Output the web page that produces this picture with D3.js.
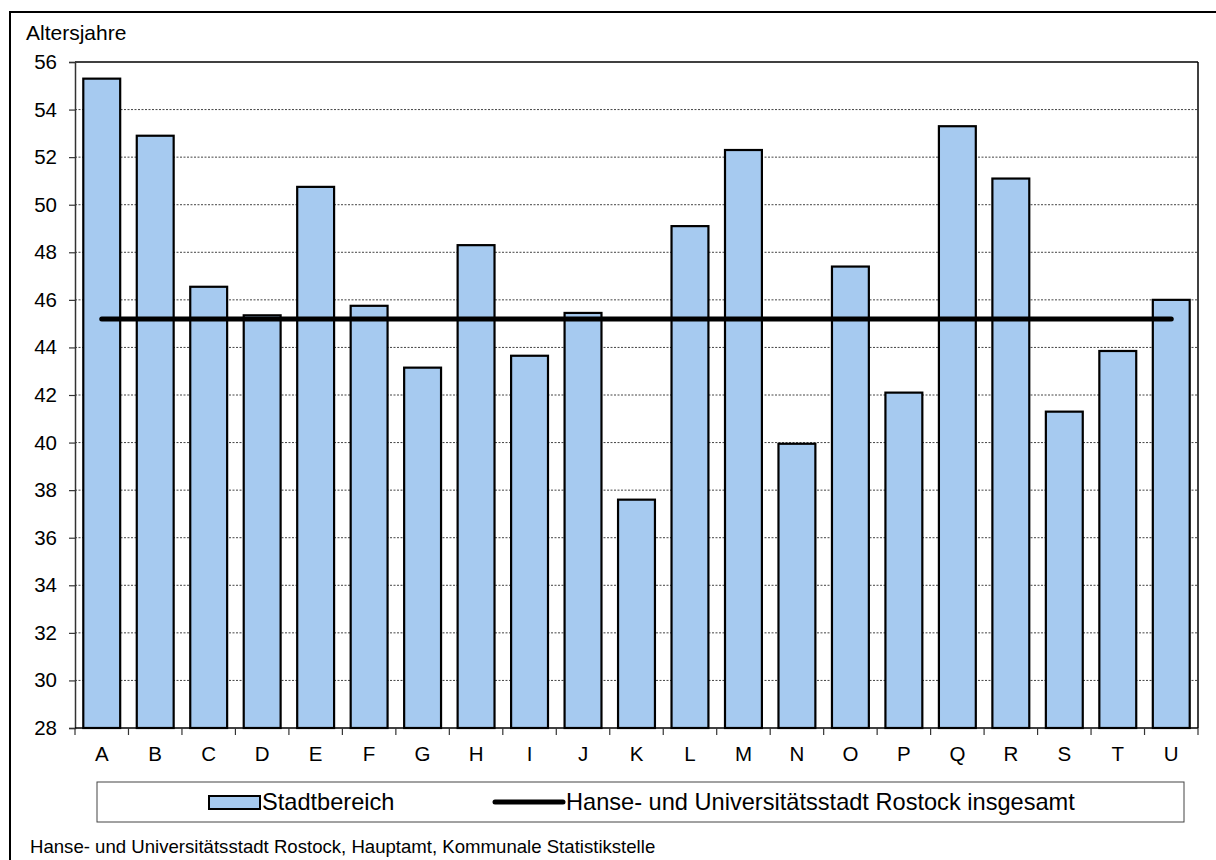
<!DOCTYPE html>
<html>
<head>
<meta charset="utf-8">
<script src="https://cdn.jsdelivr.net/npm/d3@7/dist/d3.min.js"></script>
<style>
  html, body { margin: 0; padding: 0; background: #fff; }
  svg { display: block; font-family: Arial, "Liberation Sans", sans-serif; }
</style>
</head>
<body>
<svg id="chart" width="1216" height="860"></svg>
<script>
const categories = ["A","B","C","D","E","F","G","H","I","J","K","L","M","N","O","P","Q","R","S","T","U"];
const stadtbereich = [55.3, 52.9, 46.55, 45.35, 50.75, 45.75, 43.15, 48.3, 43.65, 45.45, 37.6, 49.1, 52.3, 39.95, 47.4, 42.1, 53.3, 51.1, 41.3, 43.85, 46.0];
const gesamt = 45.2;
const yTicks = [28,30,32,34,36,38,40,42,44,46,48,50,52,54,56];
const yTitle = "Altersjahre";
const legendLabels = ["Stadtbereich", "Hanse- und Universitätsstadt Rostock insgesamt"];
const sourceText = "Hanse- und Universitätsstadt Rostock, Hauptamt, Kommunale Statistikstelle";

const svg = d3.select("#chart");
const plot = {left: 75, top: 62, right: 1198, bottom: 728};

// outer frame
svg.append("rect").attr("x", 10).attr("y", 12).attr("width", 1216).attr("height", 860)
  .attr("fill", "none").attr("stroke", "#000").attr("stroke-width", 2);

const x = d3.scaleBand().domain(categories).range([plot.left, plot.right])
  .paddingInner(0.31).paddingOuter(0.155);
const xStep = d3.scaleBand().domain(categories).range([plot.left, plot.right]).padding(0);
const y = d3.scaleLinear().domain([28, 56]).range([plot.bottom, plot.top]);

// gridlines
svg.append("g").selectAll("line").data(yTicks.filter(t => t > 28 && t < 56)).join("line")
  .attr("x1", plot.left).attr("x2", plot.right)
  .attr("y1", d => y(d)).attr("y2", d => y(d))
  .attr("stroke", "#444").attr("stroke-width", 1).attr("stroke-dasharray", "2,1.5");

// plot top & right border
svg.append("line").attr("x1", plot.left).attr("x2", plot.right).attr("y1", y(56)).attr("y2", y(56))
  .attr("stroke", "#000").attr("stroke-width", 1.5);
svg.append("line").attr("x1", plot.right).attr("x2", plot.right).attr("y1", plot.top).attr("y2", plot.bottom)
  .attr("stroke", "#000").attr("stroke-width", 1.5);

// bars
svg.append("g").selectAll("rect").data(categories).join("rect")
  .attr("x", d => x(d))
  .attr("y", (d, i) => y(stadtbereich[i]))
  .attr("width", x.bandwidth())
  .attr("height", (d, i) => y(28) - y(stadtbereich[i]))
  .attr("fill", "#A6CAF0").attr("stroke", "#000").attr("stroke-width", 2.2);

// y axis
const yAxis = d3.axisLeft(y).tickValues(yTicks).tickSize(6).tickPadding(12).tickFormat(d3.format("d"));
const gy = svg.append("g").attr("transform", `translate(${plot.left},0)`).call(yAxis);
gy.select(".domain").attr("stroke", "#333").attr("stroke-width", 1.5);
gy.selectAll(".tick line").attr("stroke", "#333").attr("stroke-width", 1.2);
gy.selectAll("text").attr("font-size", 20.5).attr("fill", "#000").attr("font-family", "Arial, 'Liberation Sans', sans-serif");

// x axis: baseline, boundary ticks, labels
svg.append("line").attr("x1", plot.left).attr("x2", plot.right).attr("y1", plot.bottom).attr("y2", plot.bottom)
  .attr("stroke", "#000").attr("stroke-width", 1.5);
const bounds = categories.map(c => xStep(c)).concat([plot.right]);
svg.append("g").selectAll("line").data(bounds).join("line")
  .attr("x1", d => d).attr("x2", d => d).attr("y1", plot.bottom).attr("y2", plot.bottom + 7)
  .attr("stroke", "#333").attr("stroke-width", 1.2);
svg.append("g").selectAll("text").data(categories).join("text")
  .attr("x", d => xStep(d) + xStep.bandwidth() / 2)
  .attr("y", 761)
  .attr("text-anchor", "middle").attr("font-size", 20.5).text(d => d);

// total line
const first = categories[0], last = categories[categories.length - 1];
svg.append("line")
  .attr("x1", x(first) + x.bandwidth() / 2).attr("x2", x(last) + x.bandwidth() / 2)
  .attr("y1", y(gesamt)).attr("y2", y(gesamt))
  .attr("stroke", "#000").attr("stroke-width", 5).attr("stroke-linecap", "round");

// y title
svg.append("text").attr("x", 26).attr("y", 40).attr("font-size", 21).text(yTitle);

// legend
const lg = svg.append("g");
lg.append("rect").attr("x", 97).attr("y", 782).attr("width", 1087).attr("height", 40)
  .attr("fill", "#fff").attr("stroke", "#444").attr("stroke-width", 1);
lg.append("rect").attr("x", 209).attr("y", 796).attr("width", 51).attr("height", 13)
  .attr("fill", "#A6CAF0").attr("stroke", "#000").attr("stroke-width", 2);
lg.append("text").attr("x", 262).attr("y", 810).attr("font-size", 23.6).text(legendLabels[0]);
lg.append("line").attr("x1", 495).attr("x2", 563).attr("y1", 802).attr("y2", 802)
  .attr("stroke", "#000").attr("stroke-width", 5).attr("stroke-linecap", "round");
lg.append("text").attr("x", 566).attr("y", 810).attr("font-size", 23.6).text(legendLabels[1]);

// source
svg.append("text").attr("x", 30).attr("y", 853).attr("font-size", 18.6).text(sourceText);
</script>
</body>
</html>
